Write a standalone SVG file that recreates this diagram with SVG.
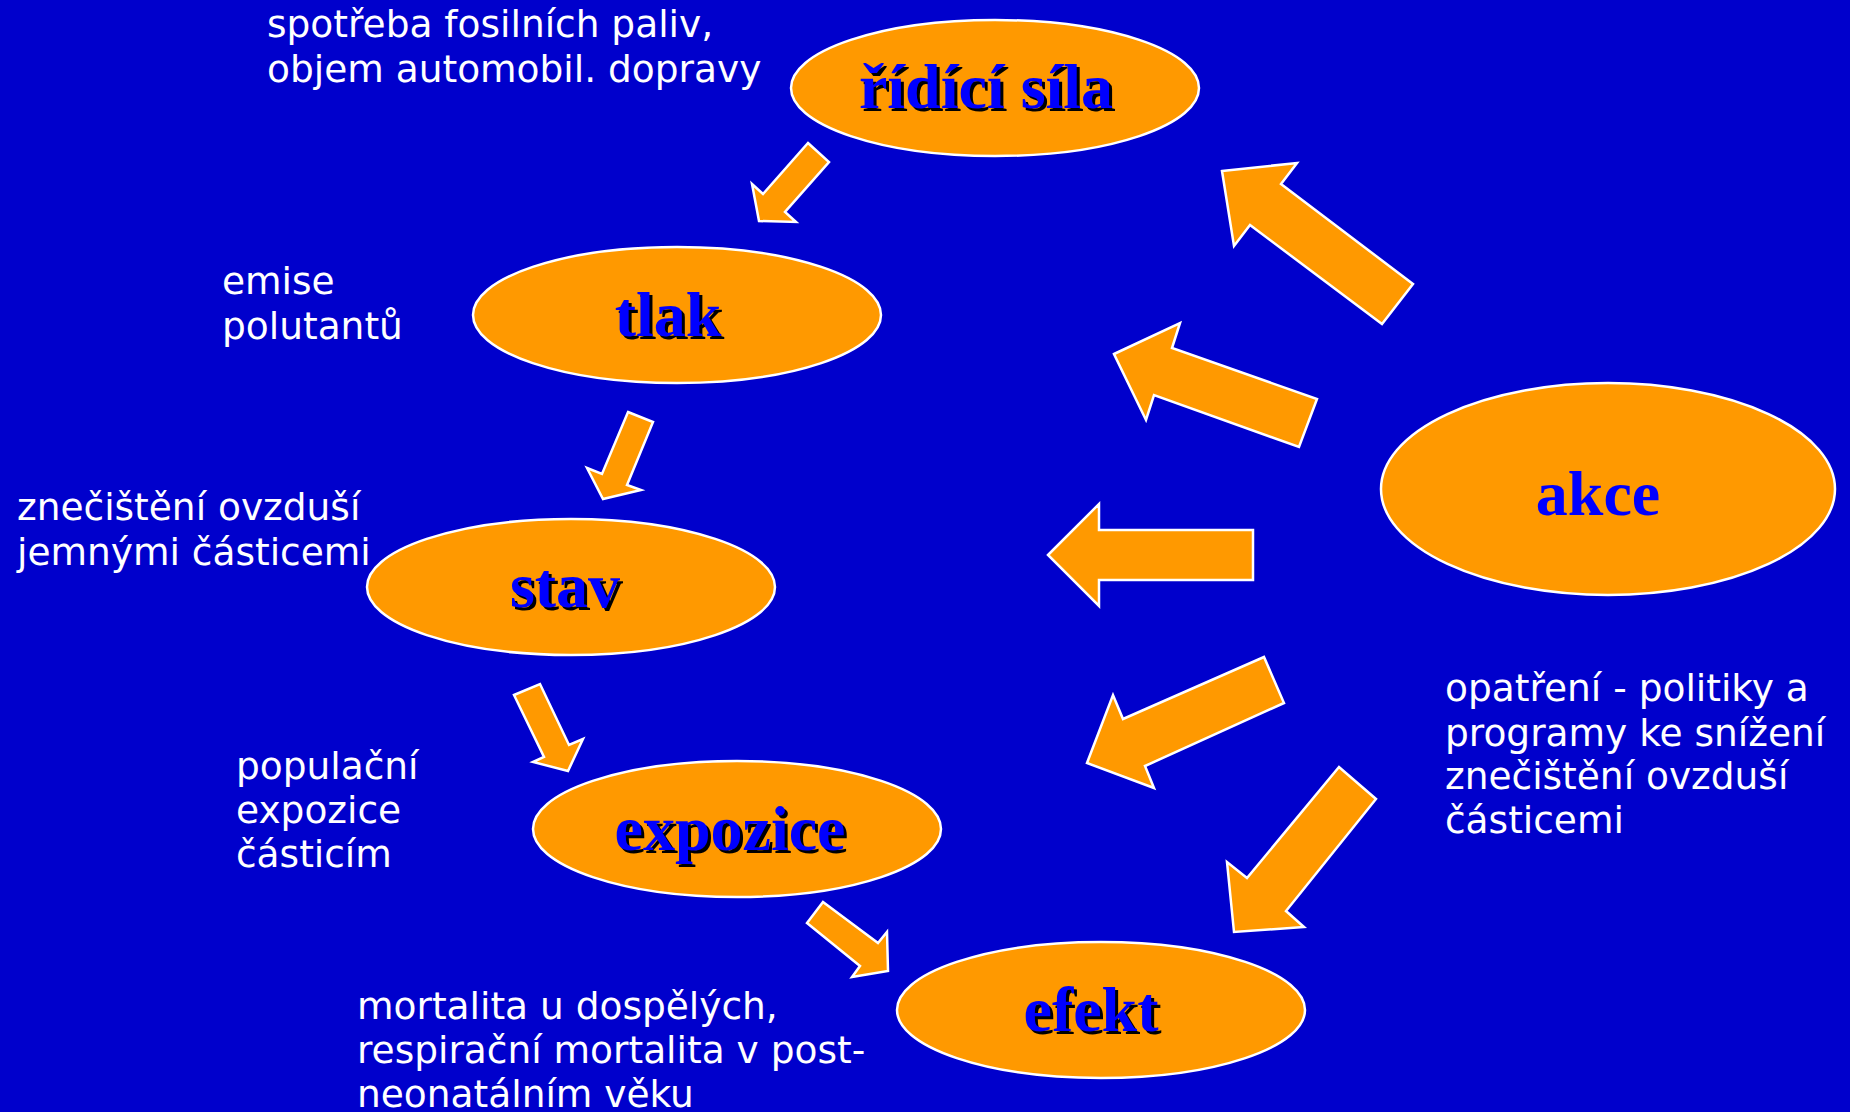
<svg xmlns="http://www.w3.org/2000/svg" width="1850" height="1112" viewBox="0 0 1850 1112">
<style>
.node{fill:#FF9900;stroke:#FFFFFF;stroke-width:2.5}
.arr{fill:#FF9900;stroke:#FFFFFF;stroke-width:2.5;stroke-linejoin:miter}
.nt{font-family:"Liberation Serif","Times New Roman",serif;font-weight:bold;font-size:64px;text-anchor:middle;fill:#0000FF}
.sh{fill:#000000}
.lb{font-family:"DejaVu Sans",Verdana,sans-serif;font-size:37.5px;fill:#FFFFFF}
</style>
<rect width="1850" height="1112" fill="#0000CC"/>
<g id="connectors">
<polygon class="arr" points="808,143 829,162 785,212 796,222 759,221 752,184 763,194"/>
<polygon class="arr" points="628,412 653,422 627,485 641,490 603,499 587,468 602,474"/>
<polygon class="arr" points="514,695 540,684 569,745 583,739 568,771 533,762 544,757"/>
<polygon class="arr" points="823,902 878,943 887,932 888,971 852,977 860,966 807,923"/>
<polygon class="arr" points="1222,171 1297,163 1281,184 1413,284 1382,324 1250,225 1234,246"/>
<polygon class="arr" points="1114,354 1180,323 1172,348 1317,399 1299,447 1154,395 1146,420"/>
<polygon class="arr" points="1048,555 1099,504 1099,530 1253,530 1253,580 1099,580 1099,606"/>
<polygon class="arr" points="1087,763 1113,695 1123,719 1264,657 1284,703 1145,766 1154,788"/>
<polygon class="arr" points="1234,932 1227,862 1247,878 1339,767 1376,799 1286,911 1304,927"/>
</g>
<g id="ridici-sila">
<ellipse class="node" cx="995" cy="88" rx="204" ry="68"/>
<text class="nt sh" x="989" y="111">řídící síla</text>
<text class="nt" x="986" y="108">řídící síla</text>
</g>
<g id="tlak">
<ellipse class="node" cx="677" cy="315" rx="204" ry="68"/>
<text class="nt sh" x="671" y="339">tlak</text>
<text class="nt" x="668" y="336">tlak</text>
</g>
<g id="stav">
<ellipse class="node" cx="571" cy="587" rx="204" ry="68"/>
<text class="nt sh" x="568" y="610">stav</text>
<text class="nt" x="565" y="607">stav</text>
</g>
<g id="expozice">
<ellipse class="node" cx="737" cy="829" rx="204" ry="68"/>
<text class="nt sh" x="733" y="853">expozice</text>
<text class="nt" x="730" y="850">expozice</text>
</g>
<g id="efekt">
<ellipse class="node" cx="1101" cy="1010" rx="204" ry="68"/>
<text class="nt sh" x="1094" y="1034">efekt</text>
<text class="nt" x="1091" y="1031">efekt</text>
</g>
<g id="akce">
<ellipse class="node" cx="1608" cy="489" rx="227" ry="106"/>
<text class="nt" x="1598" y="515">akce</text>
</g>
<g id="labels">
<text class="lb" x="267" y="37">spotřeba fosilních paliv,</text>
<text class="lb" x="267" y="82">objem automobil. dopravy</text>
<text class="lb" x="222" y="294">emise</text>
<text class="lb" x="222" y="339">polutantů</text>
<text class="lb" x="17" y="520">znečištění ovzduší</text>
<text class="lb" x="17" y="565">jemnými částicemi</text>
<text class="lb" x="236" y="779">populační</text>
<text class="lb" x="236" y="823">expozice</text>
<text class="lb" x="236" y="867">částicím</text>
<text class="lb" x="357" y="1019">mortalita u dospělých,</text>
<text class="lb" x="357" y="1063">respirační mortalita v post-</text>
<text class="lb" x="357" y="1107">neonatálním věku</text>
<text class="lb" x="1445" y="701">opatření - politiky a</text>
<text class="lb" x="1445" y="746">programy ke snížení</text>
<text class="lb" x="1445" y="789">znečištění ovzduší</text>
<text class="lb" x="1445" y="833">částicemi</text>
</g>
</svg>
